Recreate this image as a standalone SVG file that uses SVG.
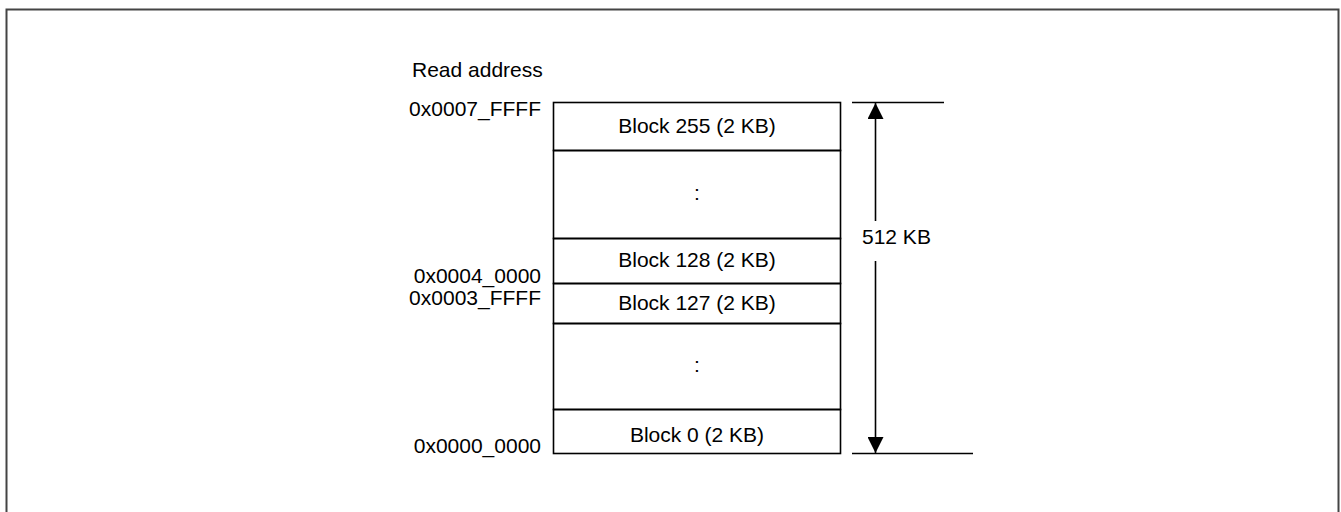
<svg xmlns="http://www.w3.org/2000/svg" width="1341" height="512" viewBox="0 0 1341 512">
<style>
text{font-family:"Liberation Sans",Arial,sans-serif;font-size:21px;fill:#000}
.lbl{text-anchor:end}
.blk{text-anchor:middle}
.ln{stroke:#000;stroke-width:1.6;fill:none}
</style>
<defs>
<marker id="ah" viewBox="0 0 16 16" refX="16" refY="8" markerWidth="16" markerHeight="16" markerUnits="userSpaceOnUse" orient="auto">
<path d="M0,0 L16,8 L0,16 Z" fill="#000"/>
</marker>
</defs>
<rect width="1341" height="512" fill="#fff"/>
<rect x="6.5" y="9.5" width="1332" height="520" fill="none" stroke="#444" stroke-width="2"/>
<text x="412" y="77">Read address</text>
<g id="addresses">
<text class="lbl" x="541" y="116">0x0007_FFFF</text>
<text class="lbl" x="541" y="283">0x0004_0000</text>
<text class="lbl" x="541" y="305">0x0003_FFFF</text>
<text class="lbl" x="541" y="453">0x0000_0000</text>
</g>
<g id="block255"><rect class="ln" x="553.5" y="102.5" width="287" height="48"/><text class="blk" x="697" y="133">Block 255 (2 KB)</text></g>
<g id="gap1"><rect class="ln" x="553.5" y="150.5" width="287" height="88"/><text class="blk" x="697" y="200">:</text></g>
<g id="block128"><rect class="ln" x="553.5" y="238.5" width="287" height="45"/><text class="blk" x="697" y="267">Block 128 (2 KB)</text></g>
<g id="block127"><rect class="ln" x="553.5" y="283.5" width="287" height="40"/><text class="blk" x="697" y="310">Block 127 (2 KB)</text></g>
<g id="gap2"><rect class="ln" x="553.5" y="323.5" width="287" height="86"/><text class="blk" x="697" y="372">:</text></g>
<g id="block0"><rect class="ln" x="553.5" y="409.5" width="287" height="44"/><text class="blk" x="697" y="442">Block 0 (2 KB)</text></g>
<g id="connectors">
<line class="ln" x1="852" y1="102.5" x2="944" y2="102.5"/>
<line class="ln" x1="852" y1="453.5" x2="973" y2="453.5"/>
<line class="ln" x1="875.5" y1="278" x2="875.5" y2="103" marker-end="url(#ah)"/>
<line class="ln" x1="875.5" y1="278" x2="875.5" y2="453" marker-end="url(#ah)"/>
</g>
<g id="size-label">
<rect x="858" y="221" width="76" height="40" fill="#fff"/>
<text x="862" y="244">512 KB</text>
</g>
</svg>
